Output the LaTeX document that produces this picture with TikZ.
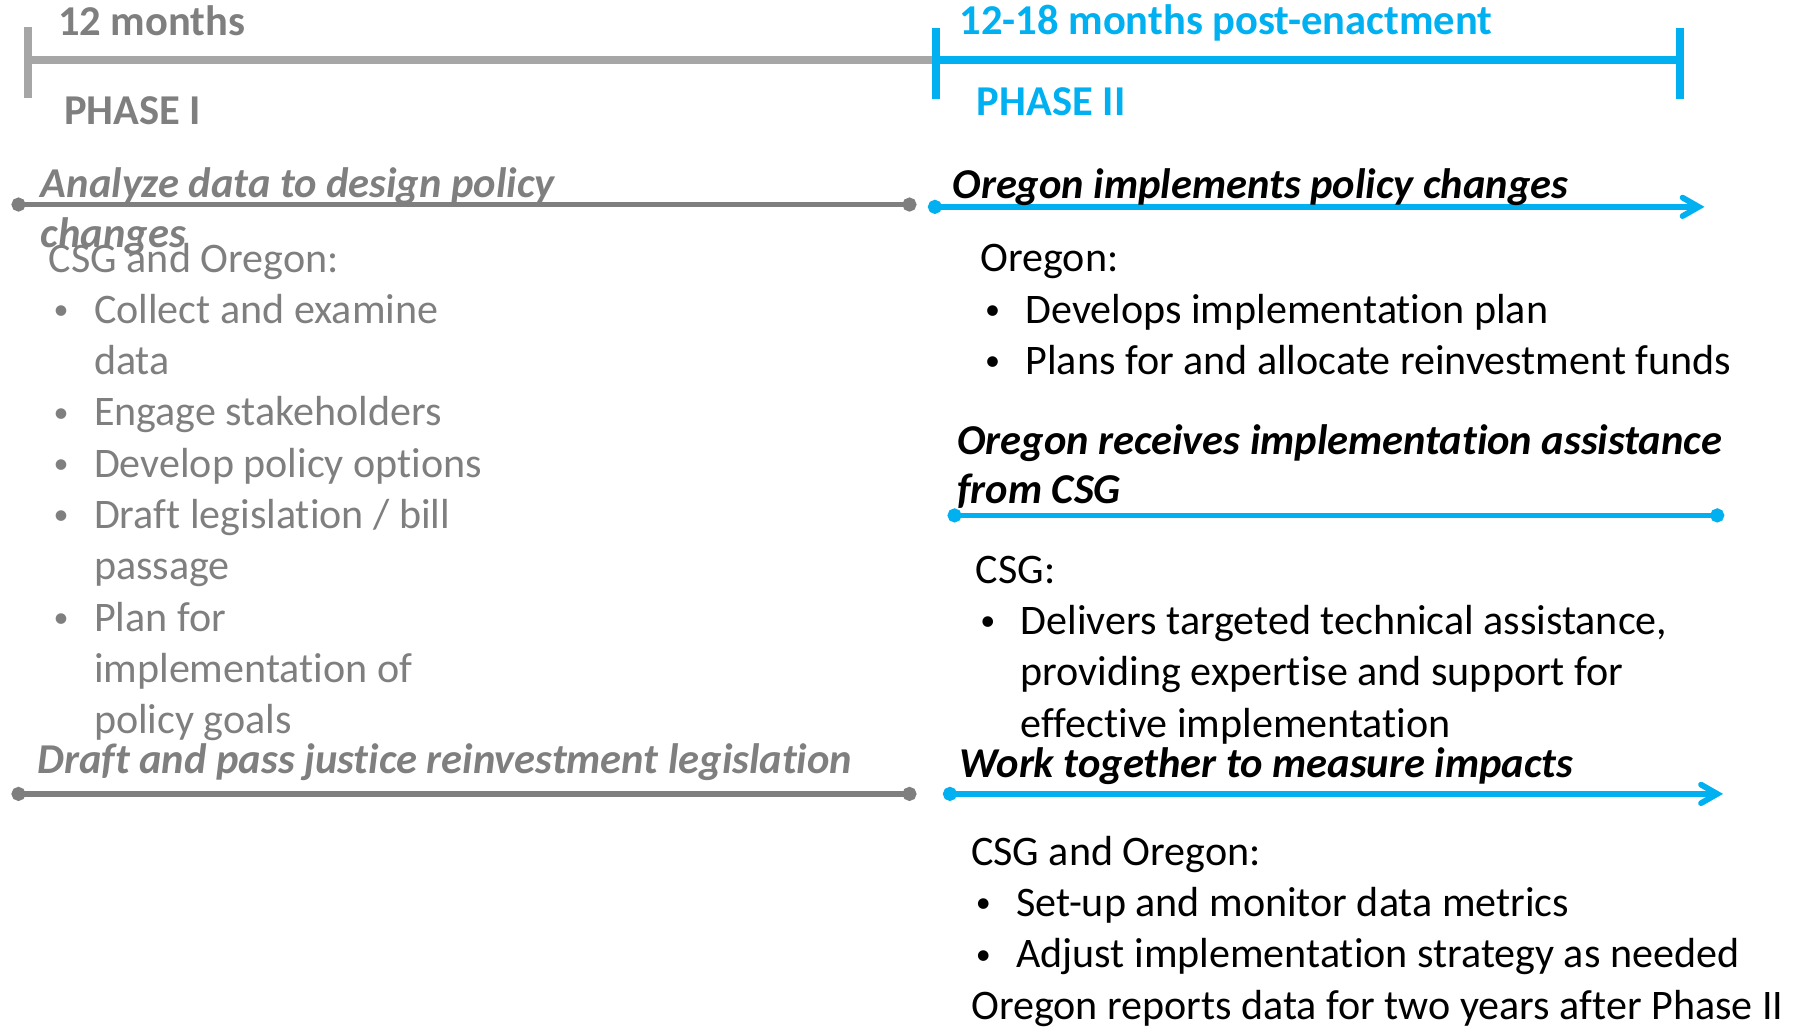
\documentclass[tikz,border=0pt]{standalone}
\usepackage{fontspec}
\setmainfont{Carlito}[Ligatures=NoCommon]
\usepackage{tikz}
\usepackage{xcolor}
\usetikzlibrary{arrows.meta}
\definecolor{phasegray}{RGB}{127,127,127}
\definecolor{barlightgray}{RGB}{166,166,166}
\definecolor{phaseblue}{RGB}{0,176,240}
\newcommand{\bitem}[1]{\makebox[19.5pt][l]{\hspace{2pt}\raisebox{1.6pt}{\fontsize{13}{13}\selectfont\textbullet}}#1}
\newcommand{\bcont}[1]{\hspace{19.5pt}#1}
\tikzset{
    % Define text styles (base = baseline of the last line)
    phaselabel/.style={
        anchor=base west, inner sep=0pt,
        font=\fontsize{18.4}{22}\selectfont\bfseries
    },
    steptitle/.style={
        anchor=base west, inner sep=0pt, align=left,
        font=\fontsize{18.4}{21.5}\selectfont\bfseries\itshape
    },
    stepbody/.style={
        anchor=base west, inner sep=0pt, align=left,
        font=\fontsize{18.2}{22.2}\selectfont
    },
    % Define line styles
    phasebar/.style={
        line width=3.5pt, line cap=butt
    },
    stepline/.style={
        line width=2.5pt,
        {Circle[length=6pt]}-{Circle[length=6pt]}
    },
    steparrow/.style={
        line width=2.5pt,
        {Circle[length=6pt]}-{Straight Barb[length=7pt,width=8pt,line cap=round]}
    }
}

\begin{document}
\begin{tikzpicture}[x=0.5pt, y=-0.5pt]
\useasboundingbox (0,0) rectangle (1568,888);

% phase bars
\coordinate (p1tickTop) at (24,23);
\coordinate (p1tickBot) at (24,85);
\coordinate (p1left) at (24,52);
\coordinate (p1right) at (810,52);
\coordinate (p2tickTopL) at (810,24);
\coordinate (p2tickBotL) at (810,86);
\coordinate (p2tickTopR) at (1454,24);
\coordinate (p2tickBotR) at (1454,86);
\coordinate (p2right) at (1454,52);

\draw[phasebar, barlightgray] (p1tickTop) -- (p1tickBot);
\draw[phasebar, barlightgray] (p1left) -- (p1right);
\draw[phasebar, phaseblue] (p2tickTopL) -- (p2tickBotL);
\draw[phasebar, phaseblue] (p1right) -- (p2right);
\draw[phasebar, phaseblue] (p2tickTopR) -- (p2tickBotR);

\node[phaselabel, text=phasegray] (p1months) at (50,31) {12 months};
\node[phaselabel, text=phasegray] (p1name) at (55,108) {PHASE I};
\node[phaselabel, text=phaseblue] (p2months) at (830,30) {12-18 months post-enactment};
\node[phaselabel, text=phaseblue] (p2name) at (845,100) {PHASE II};

% phase I steps
\coordinate (a1) at (10,177);
\coordinate (a2) at (793,177);
\coordinate (d1) at (10,687);
\coordinate (d2) at (793,687);
\draw[stepline, phasegray] (a1) -- (a2);
\draw[stepline, phasegray] (d1) -- (d2);

\node[steptitle, text=phasegray] (p1step1) at (35,214) {Analyze data to design policy\\changes};
\node[stepbody, text=phasegray] (p1body) at (42,635) {CSG and Oregon:\\
    \bitem{Collect and examine}\\
    \bcont{data}\\
    \bitem{Engage stakeholders}\\
    \bitem{Develop policy options}\\
    \bitem{Draft legislation / bill}\\
    \bcont{passage}\\
    \bitem{Plan for}\\
    \bcont{implementation of}\\
    \bcont{policy goals}};
\node[steptitle, text=phasegray] (p1step2) at (32,669) {Draft and pass justice reinvestment legislation};

% phase II steps
\coordinate (o1) at (803,179);
\coordinate (o2) at (1475,179);
\coordinate (r1) at (820,446);
\coordinate (r2) at (1492,446);
\coordinate (w1) at (816,687);
\coordinate (w2) at (1491,687);
\draw[steparrow, phaseblue] (o1) -- (o2);
\draw[stepline, phaseblue] (r1) -- (r2);
\draw[steparrow, phaseblue] (w1) -- (w2);

\node[steptitle] (p2step1) at (824,172) {Oregon implements policy changes};
\node[stepbody] (p2body1) at (848,324) {Oregon:\\
    \bitem{Develops implementation plan}\\
    \bitem{Plans for and allocate reinvestment funds}};
\node[steptitle] (p2step2) at (828,436) {Oregon receives implementation assistance\\from CSG};
\node[stepbody] (p2body2) at (844,638) {CSG:\\
    \bitem{Delivers targeted technical assistance,}\\
    \bcont{providing expertise and support for}\\
    \bcont{effective implementation}};
\node[steptitle] (p2step3) at (830,673) {Work together to measure impacts};
\node[stepbody] (p2body3) at (840,882) {CSG and Oregon:\\
    \bitem{Set-up and monitor data metrics}\\
    \bitem{Adjust implementation strategy as needed}\\
    Oregon reports data for two years after Phase II};

\end{tikzpicture}
\end{document}
